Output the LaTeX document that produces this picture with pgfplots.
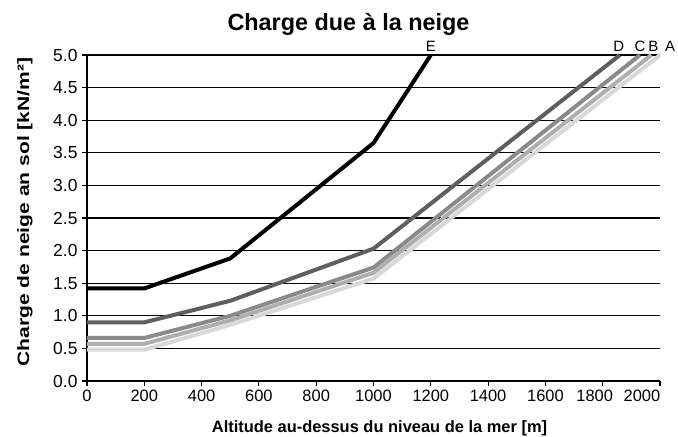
\documentclass[border=0pt]{standalone}
\usepackage{fontspec}
\setmainfont{Liberation Sans}
\usepackage{graphicx}
\usepackage{pgfplots}
\pgfplotsset{compat=1.18}

\definecolor{colE}{HTML}{000000}
\definecolor{colD}{HTML}{5E5E5E}
\definecolor{colC}{HTML}{8A8A8A}
\definecolor{colB}{HTML}{AEAEAE}
\definecolor{colA}{HTML}{D8D8D8}

\begin{document}
\begin{tikzpicture}
\begin{axis}[
  scale only axis,
  width=573bp, height=326bp,
  xmin=0, xmax=2000,
  ymin=0, ymax=5,
  xtick={0,200,...,2000},
  xticklabels={0,200,400,600,800,1000,1200,1400,1600,\hspace*{-16bp}1800,\hspace*{-36bp}2000},
  ytick={0,0.5,...,5},
  axis x line=bottom, axis y line=left,
  axis line style={-, line width=1.6pt},
  tick align=outside,
  major tick length=5bp,
  tick style={black, line width=1.2pt},
  ymajorgrids=true,
  grid style={black, line width=1.3pt},
  y tick label style={/pgf/number format/fixed, /pgf/number format/fixed zerofill, /pgf/number format/precision=1},
  /pgf/number format/assume math mode=true,
  /pgf/number format/1000 sep={},
  xticklabel style={font=\fontsize{16.5}{18}\selectfont, anchor=north, yshift=-1bp},
  yticklabel style={font=\fontsize{17.5}{19}\selectfont, anchor=east, xshift=-1bp},
  title={Charge due à la neige},
  title style={font=\fontsize{23.5}{26}\selectfont\bfseries,
    at={(rel axis cs:0.5,1)}, anchor=base, yshift=19bp, xshift=-25bp},
  xlabel={Altitude au-dessus du niveau de la mer [m]},
  xlabel style={font=\fontsize{16.5}{18}\selectfont\bfseries,
    at={(rel axis cs:0.5,0)}, anchor=base, yshift=-51bp, xshift=6bp},
  ylabel={\scalebox{1.28}[1]{Charge de neige an sol [kN/m²]}},
  ylabel style={font=\fontsize{16.5}{18}\selectfont\bfseries,
    at={(rel axis cs:0,0.5)}, anchor=center, xshift=6bp, yshift=62bp},
  clip=false,
]
\coordinate (O) at (rel axis cs:0,0);
\addplot[colA, line width=4bp] coordinates {(0,0.48) (200,0.48) (500,0.86) (1000,1.57) (2000,5.0)}
  node[pos=1, anchor=south, inner sep=1.5bp, xshift=10bp, black, font=\fontsize{15}{16}\selectfont] {A};
\addplot[colB, line width=4bp] coordinates {(0,0.57) (200,0.57) (500,0.93) (1000,1.66) (1970,5.0)}
  node[pos=1, anchor=south, inner sep=1.5bp, xshift=2bp, black, font=\fontsize{15}{16}\selectfont] {B};
\addplot[colC, line width=4bp] coordinates {(0,0.66) (200,0.66) (500,1.0) (1000,1.74) (1930,5.0)}
  node[pos=1, anchor=south, inner sep=1.5bp, black, font=\fontsize{15}{16}\selectfont] {C};
\addplot[colD, line width=4bp] coordinates {(0,0.90) (200,0.90) (500,1.23) (1000,2.03) (1860,5.0)}
  node[pos=1, anchor=south, inner sep=1.5bp, xshift=-1bp, black, font=\fontsize{15}{16}\selectfont] {D};
\addplot[colE, line width=4bp] coordinates {(0,1.42) (200,1.42) (500,1.88) (1000,3.65) (1200,5.0)}
  node[pos=1, anchor=south, inner sep=1.5bp, black, font=\fontsize{15}{16}\selectfont] {E};
\end{axis}
\pgfresetboundingbox
\path (O) ++(-87bp,-56bp) rectangle ++(678bp,437bp);
\end{tikzpicture}
\end{document}
